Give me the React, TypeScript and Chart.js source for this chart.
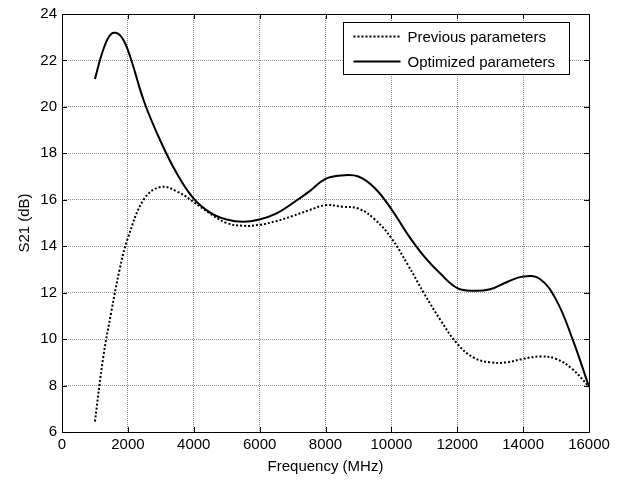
import React, { useEffect, useRef } from "react";
import { Chart, registerables } from "chart.js";
Chart.register(...registerables);

const frequencies = [1000, 1250, 1500, 1750, 2000, 2500, 3000, 3500, 4000, 4500, 5000, 5500, 6000, 6500, 7000, 7500, 8000, 8500, 9000, 9500, 10000, 10500, 11000, 11500, 12000, 12500, 13000, 13500, 14000, 14500, 15000, 15500, 16000];
const previous = [6.45, 9.2, 11.2, 13.0, 14.35, 16.05, 16.55, 16.35, 15.9, 15.4, 15.0, 14.88, 14.92, 15.08, 15.3, 15.55, 15.77, 15.7, 15.62, 15.15, 14.35, 13.2, 11.95, 10.8, 9.8, 9.2, 9.0, 9.0, 9.15, 9.25, 9.15, 8.7, 7.95];
const optimized = [21.2, 22.45, 23.15, 23.1, 22.45, 20.2, 18.5, 17.1, 16.05, 15.45, 15.15, 15.05, 15.15, 15.4, 15.85, 16.35, 16.9, 17.05, 17.0, 16.5, 15.6, 14.5, 13.55, 12.8, 12.2, 12.08, 12.15, 12.45, 12.7, 12.6, 11.7, 10.0, 7.95];
const xTicks = [0, 2000, 4000, 6000, 8000, 10000, 12000, 14000, 16000];
const yTicks = [6, 8, 10, 12, 14, 16, 18, 20, 22, 24];
const seriesLabels = ["Previous parameters", "Optimized parameters"];
const xTitle = "Frequency (MHz)";
const yTitle = "S21 (dB)";

const FONT = "'Liberation Sans', Arial, sans-serif";

const framePlugin = {
  id: "frame",
  afterDraw(chart: any) {
    const { ctx, chartArea: a, scales } = chart;
    ctx.save();
    ctx.strokeStyle = "#000";
    ctx.lineWidth = 1;
    ctx.setLineDash([]);
    ctx.beginPath();
    ctx.rect(Math.round(a.left) + 0.5, Math.round(a.top) + 0.5, Math.round(a.right - a.left), Math.round(a.bottom - a.top));
    ctx.stroke();
    const tl = 5;
    ctx.beginPath();
    for (const v of xTicks) {
      const x = Math.round(scales.x.getPixelForValue(v)) + 0.5;
      ctx.moveTo(x, a.bottom);
      ctx.lineTo(x, a.bottom - tl);
      ctx.moveTo(x, a.top);
      ctx.lineTo(x, a.top + tl);
    }
    for (const v of yTicks) {
      const y = Math.round(scales.y.getPixelForValue(v)) + 0.5;
      ctx.moveTo(a.left, y);
      ctx.lineTo(a.left + tl, y);
      ctx.moveTo(a.right, y);
      ctx.lineTo(a.right - tl, y);
    }
    ctx.stroke();

    // legend
    const bx = Math.round(a.right - 246) + 0.5;
    const by = Math.round(a.top + 8) + 0.5;
    const bw = 226;
    const bh = 52;
    ctx.fillStyle = "#fff";
    ctx.fillRect(bx, by, bw, bh);
    ctx.strokeStyle = "#000";
    ctx.lineWidth = 1;
    ctx.strokeRect(bx, by, bw, bh);
    const rows = [by + 14, by + 39];
    chart.data.datasets.forEach((ds: any, i: number) => {
      ctx.beginPath();
      ctx.lineWidth = 2;
      ctx.setLineDash(ds.borderDash || []);
      ctx.moveTo(bx + 10, rows[i]);
      ctx.lineTo(bx + 57, rows[i]);
      ctx.stroke();
      ctx.setLineDash([]);
      ctx.fillStyle = "#000";
      ctx.font = `15px ${FONT}`;
      ctx.textBaseline = "middle";
      ctx.textAlign = "left";
      ctx.fillText(seriesLabels[i], bx + 64, rows[i] + 1);
    });
    ctx.restore();
  },
};

export default function App() {
  const ref = useRef<HTMLCanvasElement>(null);
  useEffect(() => {
    document.body.style.margin = "0";
    const chart = new Chart(ref.current as HTMLCanvasElement, {
      type: "line",
      data: {
        datasets: [
          {
            label: seriesLabels[0],
            data: frequencies.map((f, i) => ({ x: f, y: previous[i] })),
            borderColor: "#000",
            borderWidth: 2,
            borderDash: [2, 2],
            pointRadius: 0,
            tension: 0.4,
            fill: false,
          },
          {
            label: seriesLabels[1],
            data: frequencies.map((f, i) => ({ x: f, y: optimized[i] })),
            borderColor: "#000",
            borderWidth: 2,
            pointRadius: 0,
            tension: 0.4,
            fill: false,
          },
        ],
      },
      options: {
        animation: false,
        responsive: false,
        maintainAspectRatio: false,
        layout: { padding: { top: 11, right: 35, left: 0, bottom: 0 } },
        plugins: { legend: { display: false }, tooltip: { enabled: false } },
        scales: {
          x: {
            type: "linear",
            min: 0,
            max: 16000,
            afterBuildTicks: (s: any) => {
              s.ticks = xTicks.map((v) => ({ value: v }));
            },
            afterFit: (s: any) => {
              s.height = 48;
            },
            ticks: { font: { family: FONT, size: 15 }, color: "#000", padding: 4, maxRotation: 0, autoSkip: false, callback: (v: any) => String(v) },
            grid: { color: "#8c8c8c", lineWidth: 1, drawTicks: false },
            border: { display: false, dash: [1, 1] },
            title: { display: true, text: xTitle, font: { family: FONT, size: 15 }, color: "#000", padding: { top: 0, bottom: 4 } },
          },
          y: {
            type: "linear",
            min: 6,
            max: 24,
            afterBuildTicks: (s: any) => {
              s.ticks = yTicks.map((v) => ({ value: v }));
            },
            afterFit: (s: any) => {
              s.width = 62;
            },
            ticks: { font: { family: FONT, size: 15 }, color: "#000", padding: 5, autoSkip: false, callback: (v: any) => String(v) },
            grid: { color: "#8c8c8c", lineWidth: 1, drawTicks: false },
            border: { display: false, dash: [1, 1] },
            title: { display: true, text: yTitle, font: { family: FONT, size: 15 }, color: "#000", padding: { top: 16, bottom: 0 } },
          },
        },
      },
      plugins: [framePlugin],
    } as any);
    return () => chart.destroy();
  }, []);
  return (
    <div style={{ width: 624, height: 480, background: "#fff" }}>
      <canvas ref={ref} width={624} height={480} style={{ display: "block" }} />
    </div>
  );
}
